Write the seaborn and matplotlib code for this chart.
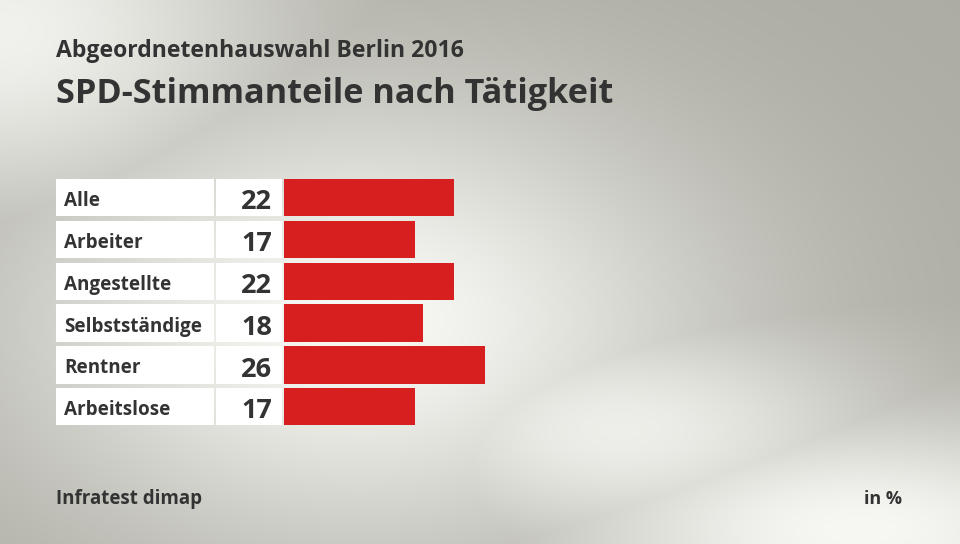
import numpy as np
import pandas as pd
import matplotlib
matplotlib.use("Agg")
import matplotlib.pyplot as plt
import matplotlib.transforms as mtrans
from matplotlib.patches import Rectangle
import seaborn as sns

categories = ["Alle", "Arbeiter", "Angestellte", "Selbstständige", "Rentner", "Arbeitslose"]
values = [22, 17, 22, 18, 26, 17]
title_top = "Abgeordnetenhauswahl Berlin 2016"
title_main = "SPD-Stimmanteile nach Tätigkeit"
source = "Infratest dimap"
unit = "in %"

sns.set_theme(style="white")
plt.rcParams["font.family"] = ["Open Sans", "DejaVu Sans"]

W, H = 960, 544
fig = plt.figure(figsize=(W / 100, H / 100), dpi=100)
renderer = fig.canvas.get_renderer()

def fit(t, width_px):
    fs = t.get_fontsize()
    for _ in range(3):
        w = t.get_window_extent(renderer=renderer).width
        fs = fs * width_px / w
        t.set_fontsize(fs)
    return fs

# background gradient
yy, xx = np.mgrid[0:H, 0:W].astype(float)
def blob(cx, cy, sx, sy, a=1.0):
    return a * np.exp(-(((xx - cx) / sx) ** 2 + ((yy - cy) / sy) ** 2))
light = np.maximum.reduce([
    blob(360, 320, 330, 210),
    blob(0, 30, 260, 170, 0.9),
    blob(860, 530, 300, 110, 1.0),
    blob(620, 430, 260, 110, 0.85),
])
light = np.clip(light, 0, 1) ** 0.8
dark = np.array([172, 172, 164]) / 255
lite = np.array([247, 247, 243]) / 255
img = dark[None, None, :] + (lite - dark)[None, None, :] * light[..., None]
bg = fig.add_axes([0, 0, 1, 1])
bg.imshow(img, aspect="auto", extent=[0, W, H, 0])
bg.set_axis_off()
bg.set_zorder(-5)

txt = "#333333"
red = "#d81f20"

df = pd.DataFrame({"cat": categories, "val": values})

px = 170 / 22.0
left_px = 284
xmax = 30
ax_w = xmax * px
row = 41.8
top_px = 197.8 - row / 2
ax = fig.add_axes([left_px / W, 1 - (top_px + 6 * row) / H, ax_w / W, 6 * row / H])
sns.barplot(data=df, x="val", y="cat", orient="h", color=red, saturation=1,
            width=37.4 / row, ax=ax, linewidth=0)
ax.set_xlim(0, xmax)
ax.set_ylim(5.5, -0.5)
ax.set_axis_off()
ax.patch.set_alpha(0)

tr = mtrans.blended_transform_factory(fig.transFigure, ax.transData)
hh = 37.4 / row
probe = fig.text(0, 0, "Selbstständige", fontsize=14, fontweight="bold")
lab_fs = fit(probe, 138)
probe.remove()
probe = fig.text(0, 0, "22", fontsize=20, fontweight="bold")
val_fs = fit(probe, 31)
probe.remove()
for i, (c, v) in enumerate(zip(categories, values)):
    ax.add_patch(Rectangle((56 / W, i - hh / 2), (214 - 56) / W, hh, transform=tr,
                           facecolor="white", edgecolor="none", clip_on=False, zorder=1))
    ax.add_patch(Rectangle((216 / W, i - hh / 2), (282 - 216) / W, hh, transform=tr,
                           facecolor="white", edgecolor="none", clip_on=False, zorder=1))
    ax.text(64 / W, i + 0.02, c, transform=tr, ha="left", va="center_baseline", fontsize=lab_fs,
            fontweight="bold", color=txt, clip_on=False, zorder=3)
    ax.text(272 / W, i + 0.04, f"{v}", transform=tr, ha="right", va="center_baseline", fontsize=val_fs,
            fontweight="bold", color=txt, clip_on=False, zorder=3)

t1 = fig.text(56 / W, 1 - 57 / H, title_top, ha="left", va="baseline", fontsize=14,
              fontweight="bold", color=txt)
fit(t1, 407)
t2 = fig.text(56 / W, 1 - 103 / H, title_main, ha="left", va="baseline", fontsize=22,
              fontweight="bold", color=txt)
fit(t2, 556)
t3 = fig.text(56 / W, 1 - 504 / H, source, ha="left", va="baseline", fontsize=13,
              fontweight="bold", color=txt)
fit(t3, 146)
t4 = fig.text(902 / W, 1 - 504 / H, unit, ha="right", va="baseline", fontsize=13,
              fontweight="bold", color=txt)
fit(t4, 38)

fig.savefig("out.png", dpi=100)
